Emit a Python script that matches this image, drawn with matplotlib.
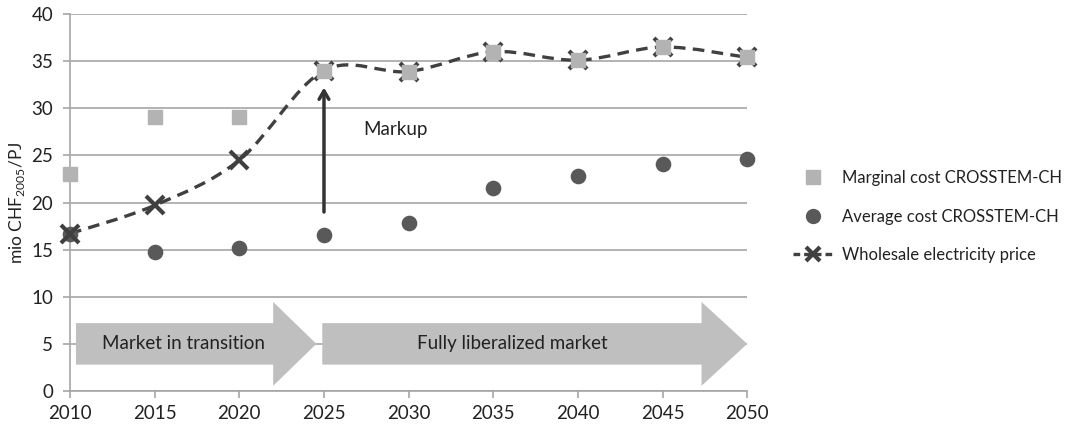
import numpy as np
import matplotlib.pyplot as plt
from matplotlib.path import Path
from matplotlib.patches import PathPatch, FancyArrow
from matplotlib.lines import Line2D

plt.rcParams['font.family'] = ['Lato', 'DejaVu Sans']

years = [2010, 2015, 2020, 2025, 2030, 2035, 2040, 2045, 2050]
marginal_cost = [23.0, 29.1, 29.1, 34.0, 33.9, 36.0, 35.1, 36.5, 35.4]
average_cost = [16.7, 14.8, 15.2, 16.5, 17.8, 21.5, 22.8, 24.1, 24.6]
wholesale_price = [16.7, 19.7, 24.5, 34.0, 33.9, 36.0, 35.1, 36.5, 35.4]

phase_labels = ['Market in transition', 'Fully liberalized market']

LINE_C = '#404040'
SQ_C = '#b3b3b3'
DOT_C = '#595959'
GRID_C = '#a6a6a6'
ARROW_C = '#bfbfbf'
TXT_C = '#222222'

fig = plt.figure(figsize=(10.69, 4.29), dpi=100)
ax = fig.add_axes([0.0655, 0.0886, 0.6335, 0.8787])

# smoothed line like excel (catmull-rom as bezier segments)
pts = np.column_stack([years, wholesale_price]).astype(float)
ext = np.vstack([pts[0], pts, pts[-1]])
verts = [pts[0]]
codes = [Path.MOVETO]
for i in range(len(pts) - 1):
    p0, p1, p2, p3 = ext[i], ext[i + 1], ext[i + 2], ext[i + 3]
    verts += [p1 + (p2 - p0) / 6, p2 - (p3 - p1) / 6, p2]
    codes += [Path.CURVE4] * 3
curve = PathPatch(Path(verts, codes), fill=False, ec=LINE_C, lw=2.4,
                  ls=(0, (3.5, 2.2)), zorder=3, clip_on=False)

# phase arrows
ax.add_patch(FancyArrow(2010.35, 5, 14.2, 0, width=4.4, head_width=8.9,
                        head_length=2.55, length_includes_head=True,
                        color=ARROW_C, lw=0, zorder=2, clip_on=False))
ax.add_patch(FancyArrow(2024.9, 5, 25.1, 0, width=4.4, head_width=8.9,
                        head_length=2.7, length_includes_head=True,
                        color=ARROW_C, lw=0, zorder=2, clip_on=False))
ax.text(2016.7, 5, phase_labels[0], ha='center', va='center', fontsize=13.5, color=TXT_C, zorder=3)
ax.text(2036.1, 5, phase_labels[1], ha='center', va='center', fontsize=13.5, color=TXT_C, zorder=3)

ax.scatter(years, average_cost, s=105, color=DOT_C, zorder=4, clip_on=False)
ax.add_patch(curve)
ax.plot(years, wholesale_price, ls='none', marker='x', ms=13, mew=3,
        color=LINE_C, zorder=5, clip_on=False)
ax.plot(years, marginal_cost, ls='none', marker='s', ms=9.5, color=SQ_C,
        zorder=6, clip_on=False)

# markup arrow
ax.annotate('', xy=(2025, 32.5), xytext=(2025, 18.7),
            arrowprops=dict(arrowstyle='->,head_length=0.6,head_width=0.35',
                            lw=2.5, color='#333333'), zorder=4)
ax.text(2027.3, 27.7, 'Markup', fontsize=13.5, va='center', color=TXT_C)

ax.set_xlim(2010, 2050)
ax.set_ylim(0, 40)
ax.set_xticks(range(2010, 2051, 5))
ax.set_yticks(range(0, 41, 5))
ax.yaxis.grid(True, color=GRID_C, lw=1.2)
ax.set_axisbelow(True)
for s in ['top', 'right']:
    ax.spines[s].set_visible(False)
for s in ['left', 'bottom']:
    ax.spines[s].set_color(GRID_C)
    ax.spines[s].set_linewidth(1.2)
ax.tick_params(length=5, width=1.2, color=GRID_C, labelsize=13.5, labelcolor=TXT_C)
ax.tick_params(axis='x', pad=5)
ax.tick_params(axis='y', pad=7)
ax.set_ylabel(r'mio CHF$_{\mathregular{2005}}$/PJ', fontsize=12.5, color=TXT_C, labelpad=3)

handles = [
    Line2D([], [], ls='none', marker='s', ms=9.5, color=SQ_C),
    Line2D([], [], ls='none', marker='o', ms=10, color=DOT_C),
    Line2D([], [], ls=(0, (2, 1.2)), lw=2.4, marker='x', ms=10, mew=3, color=LINE_C),
]
labels = ['Marginal cost CROSSTEM-CH', 'Average cost CROSSTEM-CH', 'Wholesale electricity price']
fig.legend(handles, labels, loc='center left', bbox_to_anchor=(0.728, 0.495),
           frameon=False, fontsize=12, labelspacing=1.35, handlelength=2.4,
           handletextpad=0.5, labelcolor=TXT_C)

fig.savefig('out.png', dpi=100)
